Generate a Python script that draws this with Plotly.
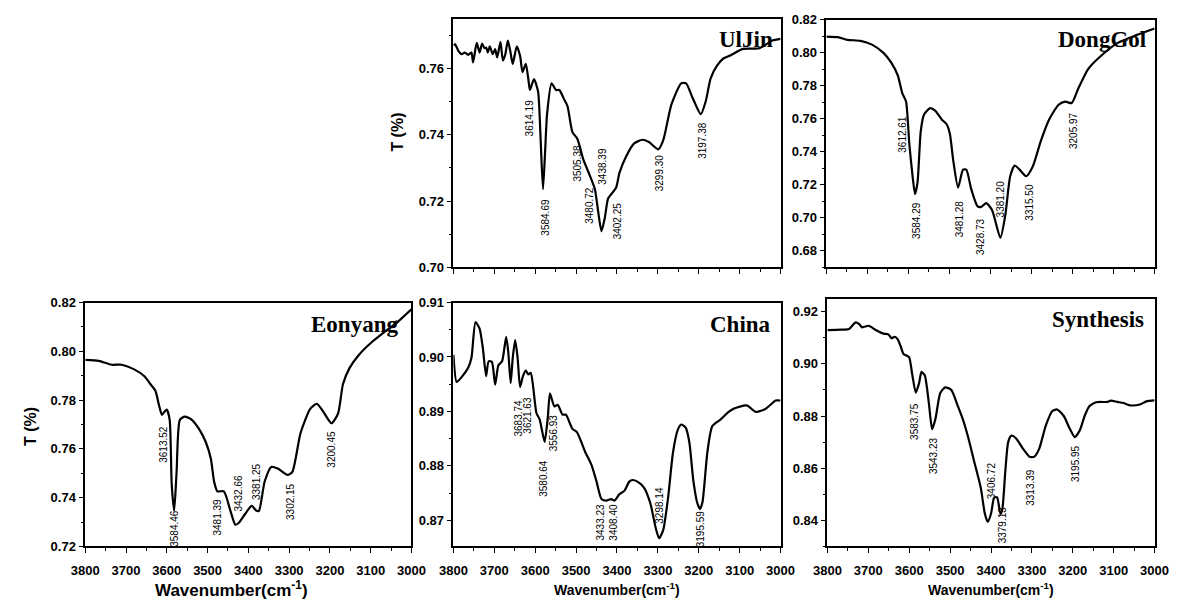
import plotly.graph_objects as go

# ---------------- data ----------------
uljin_wn = [3800, 3796, 3788, 3780, 3772, 3764, 3756, 3752, 3743, 3736, 3730, 3724, 3720, 3716, 3711, 3704, 3698, 3693,
            3685, 3679, 3673, 3667, 3661, 3655, 3645, 3637, 3631, 3623, 3616, 3613, 3603, 3593, 3587, 3581, 3576, 3571,
            3560, 3549, 3541, 3529, 3521, 3509, 3497, 3482, 3466, 3454, 3446, 3438, 3430, 3422, 3414, 3402, 3394, 3378,
            3358, 3338, 3322, 3299, 3287, 3267, 3243, 3231, 3215, 3195, 3183, 3171, 3155, 3140, 3123, 3092, 3052, 3020, 3000]
uljin_T = [0.7670, 0.7673, 0.7653, 0.7643, 0.7648, 0.7641, 0.7648, 0.7618, 0.7677, 0.7648, 0.7675, 0.7661, 0.7663, 0.7648,
           0.7667, 0.7643, 0.7658, 0.7633, 0.7680, 0.7624, 0.7643, 0.7684, 0.7653, 0.7614, 0.7667, 0.7638, 0.7589, 0.7614,
           0.7560, 0.7535, 0.7568, 0.7530, 0.7393, 0.7236, 0.7344, 0.7462, 0.7555, 0.7535, 0.7535, 0.7506, 0.7486, 0.7408,
           0.7388, 0.7324, 0.7276, 0.7236, 0.7168, 0.7109, 0.7148, 0.7207, 0.7221, 0.7241, 0.7285, 0.7334, 0.7374, 0.7385,
           0.7378, 0.7356, 0.7383, 0.7491, 0.7555, 0.7555, 0.7511, 0.7462, 0.7501, 0.7570, 0.7609, 0.7630, 0.7639, 0.7659,
           0.7661, 0.7684, 0.7689]
uljin_lbl = ["3614.19", "3584.69", "3505.38", "3480.72", "3438.39", "3402.25", "3299.30", "3197.38"]
uljin_lbl_wn = [3613, 3577, 3497, 3466, 3434, 3400, 3294, 3191]
uljin_lbl_T = [0.7452, 0.7152, 0.7314, 0.7186, 0.7304, 0.7142, 0.7285, 0.7383]

donggol_wn = [3800, 3772, 3749, 3717, 3689, 3661, 3642, 3626, 3615, 3606, 3598, 3590, 3584, 3578, 3570, 3562, 3547, 3535,
              3519, 3507, 3499, 3491, 3479, 3467, 3459, 3447, 3432, 3424, 3410, 3396, 3376, 3364, 3352, 3341, 3329, 3313,
              3297, 3277, 3257, 3234, 3218, 3202, 3186, 3162, 3131, 3091, 3043, 3000]
donggol_T = [0.8098, 0.8094, 0.8078, 0.8072, 0.8049, 0.7999, 0.7940, 0.7862, 0.7754, 0.7704, 0.7449, 0.7252, 0.7144,
             0.7213, 0.7527, 0.7626, 0.7665, 0.7649, 0.7596, 0.7567, 0.7508, 0.7350, 0.7183, 0.7292, 0.7292, 0.7174,
             0.7071, 0.7065, 0.7089, 0.7046, 0.6879, 0.7016, 0.7252, 0.7317, 0.7292, 0.7252, 0.7311, 0.7468, 0.7596,
             0.7685, 0.7704, 0.7695, 0.7783, 0.7901, 0.7980, 0.8058, 0.8108, 0.8147]
donggol_lbl = ["3612.61", "3584.29", "3481.28", "3428.73", "3381.20", "3315.50", "3205.97"]
donggol_lbl_wn = [3614, 3582, 3477, 3424, 3376, 3305, 3196]
donggol_lbl_T = [0.7508, 0.6987, 0.6997, 0.6888, 0.7114, 0.7095, 0.7527]

eonyang_wn = [3800, 3767, 3735, 3711, 3679, 3655, 3640, 3628, 3620, 3612, 3606, 3600, 3593, 3588, 3582, 3576, 3568, 3556,
              3540, 3520, 3504, 3492, 3484, 3476, 3460, 3444, 3432, 3424, 3408, 3392, 3380, 3374, 3360, 3344, 3328, 3304,
              3292, 3272, 3248, 3232, 3216, 3196, 3180, 3168, 3152, 3129, 3097, 3057, 3034, 3000]
eonyang_T = [0.7965, 0.7961, 0.7945, 0.7945, 0.7925, 0.7898, 0.7865, 0.7838, 0.7785, 0.7739, 0.7752, 0.7761, 0.7719,
             0.7453, 0.7346, 0.7506, 0.7719, 0.7732, 0.7721, 0.7679, 0.7626, 0.7559, 0.7466, 0.7426, 0.7426, 0.7346,
             0.7289, 0.7296, 0.7333, 0.7366, 0.7346, 0.7346, 0.7466, 0.7526, 0.7519, 0.7493, 0.7506, 0.7665, 0.7765,
             0.7785, 0.7752, 0.7705, 0.7745, 0.7865, 0.7931, 0.7985, 0.8038, 0.8091, 0.8120, 0.8172]
eonyang_lbl = ["3613.52", "3584.46", "3481.39", "3432.66", "3381.25", "3302.15", "3200.45"]
eonyang_lbl_wn = [3608, 3582, 3476, 3424, 3380, 3298, 3196]
eonyang_lbl_T = [0.7619, 0.7273, 0.7320, 0.7419, 0.7466, 0.7386, 0.7599]

china_wn = [3800, 3792, 3780, 3764, 3756, 3746, 3736, 3728, 3720, 3714, 3706, 3698, 3690, 3681, 3671, 3666, 3660, 3655,
            3649, 3643, 3637, 3630, 3623, 3617, 3611, 3605, 3597, 3589, 3577, 3569, 3564, 3553, 3545, 3533, 3525, 3509,
            3498, 3478, 3462, 3450, 3438, 3426, 3414, 3406, 3394, 3382, 3370, 3362, 3350, 3334, 3318, 3306, 3297, 3287,
            3275, 3263, 3251, 3243, 3232, 3223, 3213, 3203, 3197, 3191, 3179, 3167, 3147, 3127, 3115, 3083, 3060, 3036,
            3012, 3000]
china_T = [0.9004, 0.8954, 0.8963, 0.8980, 0.8998, 0.9064, 0.9052, 0.9016, 0.8965, 0.8992, 0.8991, 0.8949, 0.8985,
           0.8992, 0.9037, 0.9010, 0.8952, 0.8998, 0.9031, 0.8998, 0.8945, 0.8965, 0.8975, 0.8968, 0.8971, 0.8945,
           0.8897, 0.8885, 0.8844, 0.8891, 0.8933, 0.8909, 0.8912, 0.8894, 0.8894, 0.8868, 0.8862, 0.8826, 0.8801,
           0.8771, 0.8739, 0.8736, 0.8739, 0.8736, 0.8748, 0.8754, 0.8771, 0.8774, 0.8771, 0.8760, 0.8730, 0.8688,
           0.8667, 0.8682, 0.8742, 0.8825, 0.8867, 0.8876, 0.8870, 0.8843, 0.8771, 0.8730, 0.8721, 0.8733, 0.8825,
           0.8873, 0.8885, 0.8899, 0.8905, 0.8911, 0.8899, 0.8905, 0.8920, 0.8920]
china_lbl = ["3683.74", "3621.63", "3556.93", "3580.64", "3433.23", "3408.40", "3298.14", "3195.59"]
china_lbl_wn = [3642, 3619, 3555, 3580, 3440, 3408, 3297, 3195]
china_lbl_T = [0.8887, 0.8893, 0.8861, 0.8777, 0.8697, 0.8697, 0.8727, 0.8685]

synth_wn = [3800, 3767, 3747, 3731, 3723, 3715, 3699, 3683, 3663, 3651, 3643, 3636, 3628, 3620, 3614, 3606, 3600, 3593,
            3584, 3576, 3570, 3562, 3552, 3544, 3536, 3524, 3512, 3497, 3481, 3469, 3457, 3441, 3425, 3415, 3408, 3400,
            3392, 3385, 3377, 3373, 3365, 3358, 3350, 3338, 3322, 3306, 3294, 3282, 3266, 3250, 3238, 3222, 3207, 3195,
            3183, 3171, 3159, 3143, 3115, 3107, 3091, 3076, 3060, 3036, 3020, 3000]
synth_T = [0.9129, 0.9131, 0.9134, 0.9159, 0.9153, 0.9140, 0.9146, 0.9131, 0.9116, 0.9113, 0.9098, 0.9104, 0.9094,
           0.9063, 0.9038, 0.9031, 0.9025, 0.8963, 0.8890, 0.8925, 0.8969, 0.8956, 0.8850, 0.8750, 0.8788, 0.8888,
           0.8910, 0.8900, 0.8838, 0.8788, 0.8725, 0.8625, 0.8525, 0.8425, 0.8394, 0.8425, 0.8488, 0.8488, 0.8425,
           0.8435, 0.8588, 0.8700, 0.8725, 0.8713, 0.8675, 0.8644, 0.8644, 0.8675, 0.8763, 0.8819, 0.8825, 0.8800,
           0.8750, 0.8719, 0.8744, 0.8800, 0.8838, 0.8853, 0.8854, 0.8859, 0.8854, 0.8850, 0.8841, 0.8844, 0.8856, 0.8860]
synth_lbl = ["3583.75", "3543.23", "3406.72", "3379.13", "3313.39", "3195.95"]
synth_lbl_wn = [3586, 3542, 3400, 3373, 3302, 3195]
synth_lbl_T = [0.8781, 0.8650, 0.8550, 0.8381, 0.8525, 0.8619]

x_ticks = [3800, 3700, 3600, 3500, 3400, 3300, 3200, 3100, 3000]

# ---------------- layout ----------------
W, H = 1192, 610
SANS = "Liberation Sans, Arial, sans-serif"
SERIF = "Liberation Serif, Times New Roman, serif"


def dom_x(a, b):
    return [a / W, b / W]


def dom_y(top, bottom):
    return [(H - bottom) / H, (H - top) / H]


panels = [
    dict(name="UlJin", wn=uljin_wn, T=uljin_T, lbl=uljin_lbl, lwn=uljin_lbl_wn, lT=uljin_lbl_T,
         dx=dom_x(450, 785), dy=dom_y(12, 267), yr=[0.70, 0.775], dt=0.02, mdt=0.01, xlab=False,
         tx=0.895, ty=0.915),
    dict(name="DongGol", wn=donggol_wn, T=donggol_T, lbl=donggol_lbl, lwn=donggol_lbl_wn, lT=donggol_lbl_T,
         dx=dom_x(832, 1168), dy=dom_y(13, 267), yr=[0.67, 0.82], dt=0.02, mdt=0.01, xlab=False,
         tx=0.84, ty=0.92),
    dict(name="Eonyang", wn=eonyang_wn, T=eonyang_T, lbl=eonyang_lbl, lwn=eonyang_lbl_wn, lT=eonyang_lbl_T,
         dx=dom_x(73, 407), dy=dom_y(303, 553), yr=[0.72, 0.82], dt=0.02, mdt=0.01, xlab=True,
         tx=0.826, ty=0.91),
    dict(name="China", wn=china_wn, T=china_T, lbl=china_lbl, lwn=china_lbl_wn, lT=china_lbl_T,
         dx=dom_x(450, 785), dy=dom_y(303, 553), yr=[0.8652, 0.91], dt=0.01, mdt=0.005, xlab=True,
         tx=0.878, ty=0.91),
    dict(name="Synthesis", wn=synth_wn, T=synth_T, lbl=synth_lbl, lwn=synth_lbl_wn, lT=synth_lbl_T,
         dx=dom_x(833, 1168), dy=dom_y(299, 553), yr=[0.83, 0.925], dt=0.02, mdt=0.01, xlab=True,
         tx=0.827, ty=0.915),
]

fig = go.Figure()
annotations = []
layout = dict(width=W, height=H, margin=dict(l=0, r=0, t=0, b=0), paper_bgcolor="white",
              plot_bgcolor="white", showlegend=False)

tickfont = dict(family=SANS, size=13, color="black", weight="bold")

for i, p in enumerate(panels, start=1):
    xa = "x" if i == 1 else f"x{i}"
    ya = "y" if i == 1 else f"y{i}"
    fig.add_trace(go.Scatter(x=p["wn"], y=p["T"], mode="lines", xaxis=xa, yaxis=ya,
                             line=dict(color="black", width=2.2, shape="spline", smoothing=0.6),
                             hoverinfo="skip"))
    common = dict(showline=True, linecolor="black", linewidth=1.5, mirror=True, showgrid=False,
                  zeroline=False, ticks="outside", ticklen=5, tickwidth=1.3, tickcolor="black",
                  tickfont=tickfont)
    layout["xaxis" if i == 1 else f"xaxis{i}"] = dict(
        common, domain=p["dx"], anchor=ya, range=[3800, 3000], tickvals=x_ticks,
        showticklabels=p["xlab"], ticklabelstandoff=6,
        minor=dict(dtick=50, tick0=3000, ticks="outside", ticklen=3, tickcolor="black", tickwidth=1.2))
    layout["yaxis" if i == 1 else f"yaxis{i}"] = dict(
        common, domain=p["dy"], anchor=xa, range=p["yr"], dtick=p["dt"], tick0=0.7,
        tickformat=".2f", ticklabelstandoff=0,
        minor=dict(dtick=p["mdt"], ticks="outside", ticklen=3, tickcolor="black", tickwidth=1.2))
    for t, xw, yv in zip(p["lbl"], p["lwn"], p["lT"]):
        annotations.append(dict(x=xw, y=yv, xref=xa, yref=ya, text=t, textangle=-90, showarrow=False,
                                xanchor="center", yanchor="middle",
                                font=dict(family=SANS, size=10, color="black")))
    annotations.append(dict(x=p["tx"], y=p["ty"], xref=f"{xa} domain", yref=f"{ya} domain",
                            text=p["name"], showarrow=False, xanchor="center", yanchor="middle",
                            font=dict(family=SERIF, size=23, color="black", weight="bold")))

# axis titles
annotations.append(dict(x=393 / W, y=(H - 128) / H, xref="paper", yref="paper", text="T (%)",
                        textangle=-90, showarrow=False, xanchor="center", yanchor="middle",
                        font=dict(family=SANS, size=16, color="black", weight="bold")))
annotations.append(dict(x=17 / W, y=(H - 430) / H, xref="paper", yref="paper", text="T (%)",
                        textangle=-90, showarrow=False, xanchor="center", yanchor="middle",
                        font=dict(family=SANS, size=16, color="black", weight="bold")))
for cx, fs in [(223, 17), (617, 14), (1000, 14)]:
    annotations.append(dict(x=cx / W, y=(H - 597) / H, xref="paper", yref="paper",
                            text="Wavenumber(cm<sup>-1</sup>)", showarrow=False,
                            xanchor="center", yanchor="middle",
                            font=dict(family=SANS, size=fs, color="black", weight="bold")))

layout["annotations"] = annotations
fig.update_layout(**layout)

fig.write_html("out.html", include_plotlyjs=True, config={"displayModeBar": False},
               post_script="document.body.style.margin='0';document.body.style.overflow='hidden';")
